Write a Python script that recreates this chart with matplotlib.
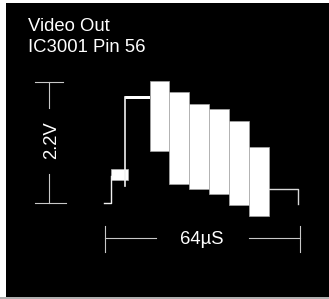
import matplotlib
matplotlib.use("Agg")
import matplotlib.pyplot as plt
from matplotlib.patches import Rectangle

plt.rcParams['font.family'] = ['Liberation Sans', 'DejaVu Sans']

# waveform, time in uS, level in V
trace_t = [-0.3, 2.0, 2.0]
trace_v = [0.01, 0.01, 0.49]
step_box = (2.0, 7.4, 0.42, 0.615)        # t0, t1, v0, v1
rise_t = [6.66, 6.66]
rise_v = [0.31, 1.93]
shelf = (6.6, 14.8, 1.88, 1.94)
bar_left = [14.8, 21.0, 27.6, 34.1, 40.7, 47.3]
bar_right = [21.0, 27.6, 34.1, 40.7, 47.3, 53.8]
bar_top = [2.21, 2.02, 1.79, 1.70, 1.49, 1.02]
bar_bottom = [0.95, 0.35, 0.26, 0.17, -0.04, -0.23]
tail_t = [53.8, 63.4, 63.4]
tail_v = [0.25, 0.25, -0.01]

volt_span = 2.2
time_span = 64

fig = plt.figure(figsize=(3.29, 2.99), dpi=100, facecolor='white')
ax = fig.add_axes([0, 0, 1, 1])
ax.set_xlim(-34.46, 73.51)
ax.set_ylim(-1.732, 3.678)
ax.axis('off')

# black screen
ax.add_patch(Rectangle((6 / 329, 2 / 299), 323 / 329, 294 / 299, transform=ax.transAxes,
                       facecolor='black', edgecolor='none', zorder=0))
ax.add_patch(Rectangle((0, 0), 1, 2 / 299, transform=ax.transAxes,
                       facecolor='#b0b0b0', edgecolor='none', zorder=0))

wave = '#f2f2f2'
ax.plot(trace_t, trace_v, color=wave, lw=1.0)
ax.add_patch(Rectangle((step_box[0], step_box[2]), step_box[1] - step_box[0],
                       step_box[3] - step_box[2], facecolor='white', edgecolor='#b0b0b0', lw=0.5))
ax.plot(rise_t, rise_v, color=wave, lw=1.2)
ax.add_patch(Rectangle((shelf[0], shelf[2]), shelf[1] - shelf[0], shelf[3] - shelf[2],
                       facecolor='white', edgecolor='none'))
for l, r, t, b in zip(bar_left, bar_right, bar_top, bar_bottom):
    ax.add_patch(Rectangle((l, b), r - l, t - b, facecolor='white', edgecolor='#a8a8a8', lw=0.5))
ax.plot(tail_t, tail_v, color='#d8d8d8', lw=1.0)

# scale markers
sc = '#c8c8c8'
vx = -18.3
ax.plot([-23.0, -13.8], [volt_span, volt_span], color=sc, lw=0.8)
ax.plot([vx, vx], [volt_span, 1.72], color=sc, lw=0.8)
ax.plot([vx, vx], [0.53, 0], color=sc, lw=0.8)
ax.plot([-23.0, -12.8], [0, 0], color=sc, lw=0.8)

hy = -0.622
ax.plot([0, 0], [-0.42, -0.89], color=sc, lw=0.8)
ax.plot([time_span, time_span], [-0.42, -0.89], color=sc, lw=0.8)
ax.plot([0, 16.6], [hy, hy], color=sc, lw=0.8)
ax.plot([47.3, time_span], [hy, hy], color=sc, lw=0.8)

fig.text(28 / 329, 1 - 30.7 / 299, 'Video Out', color='white', fontsize=13.3, va='baseline')
fig.text(28 / 329, 1 - 52.3 / 299, 'IC3001 Pin 56', color='white', fontsize=13.3, va='baseline')
fig.text(51.7 / 329, 1 - 140 / 299, '2.2V', color='white', fontsize=13.3, rotation=90,
         ha='center', va='center')
fig.text(202 / 329, 1 - 239 / 299, '64µS', color='white', fontsize=13.3, ha='center', va='center')

fig.savefig('out.png', dpi=100, facecolor='white')
